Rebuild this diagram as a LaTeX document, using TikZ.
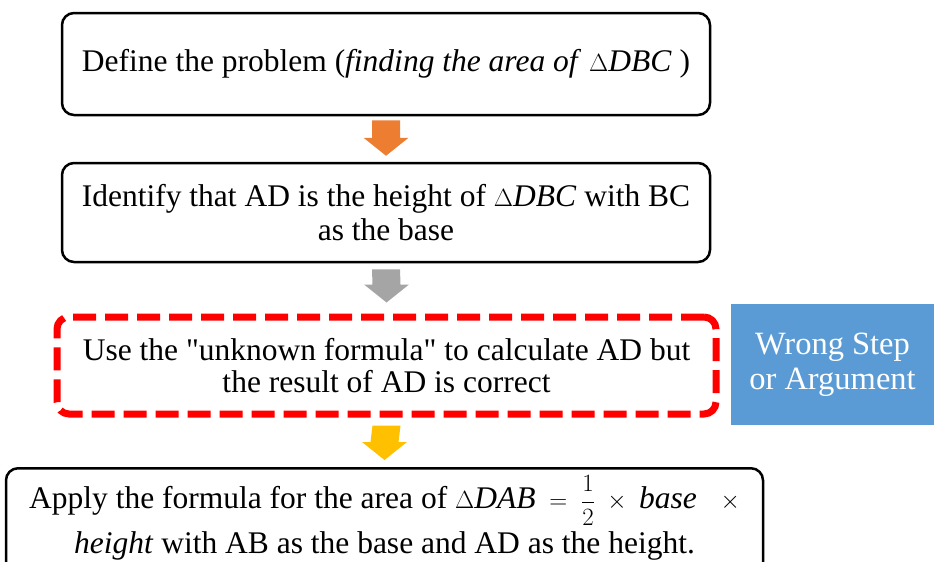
\documentclass[tikz,border=0pt]{standalone}
\usepackage{fontspec}
\setmainfont{Liberation Serif}
\usetikzlibrary{calc}
\definecolor{arrorange}{HTML}{ED7D31}
\definecolor{arrgray}{HTML}{A5A5A5}
\definecolor{arryellow}{HTML}{FFC000}
\definecolor{tagblue}{HTML}{5B9BD5}
\newcommand{\tri}[1]{\(\Delta\)\textit{#1}}
\newcommand{\blockarrow}[3]{%
  \fill[#1] ($(#2)+(-14,0)$) -- ($(#2)+(14,0)$) -- ($(#3)+(14,-18)$) -- ($(#3)+(22.5,-18)$)
    -- (#3) -- ($(#3)+(-22.5,-18)$) -- ($(#3)+(-14,-18)$) -- cycle;}
\tikzset{
  stepbox/.style={draw=black, line width=2.5pt, rounded corners=12pt, align=center,
    font=\fontsize{31.5}{34}\selectfont, inner sep=0pt},
  wrongbox/.style={draw=red, line width=7pt, dash pattern=on 23pt off 9pt,
    rounded corners=12pt, align=center, font=\fontsize{31.5}{32}\selectfont, inner sep=0pt},
  tagbox/.style={fill=tagblue, text=white, align=center,
    font=\fontsize{32.5}{35}\selectfont, inner sep=0pt}
}
\begin{document}
\begin{tikzpicture}[x=1pt,y=-1pt]
\useasboundingbox (0,0) rectangle (934,562);
\node[stepbox, minimum width=648pt, minimum height=102pt] (b1) at (386,64)
  {Define the problem (\textit{finding the area of} \tri{DBC} )};
\node[stepbox, minimum width=648pt, minimum height=99pt] (b2) at (386,212.5)
  {Identify that AD is the height of \tri{DBC} with BC\\as the base};
\node[wrongbox, minimum width=659pt, minimum height=97pt] (b3) at (386.5,365.5)
  {Use the \textquotedbl unknown formula\textquotedbl{} to calculate AD but\\the result of AD is correct};
\node[tagbox, minimum width=203pt, minimum height=121pt] (tag) at (832.5,364.5)
  {Wrong Step\\or Argument};
\node[stepbox, minimum width=757pt, minimum height=110pt, anchor=north, text depth=18pt,
  font=\fontsize{31.5}{40}\selectfont] (b4) at (384.5,467)
  {Apply the formula for the area of \(\Delta\textit{DAB} \;=\; {\displaystyle\frac{1}{2}}\;\times\; \textit{base}\ \ \ \times\)\\[5pt]
   \textit{height} with AB as the base and AD as the height.};
\blockarrow{arrorange}{$(b1.south)+(0,4)$}{$(b2.north)+(0,-6)$}
\blockarrow{arrgray}{$(b2.south)+(0,6)$}{$(b3.north)+(0,-11)$}
\blockarrow{arryellow}{$(b3.south)+(0,8)$}{$(b4.north)+(0,-7)$}
\end{tikzpicture}
\end{document}
